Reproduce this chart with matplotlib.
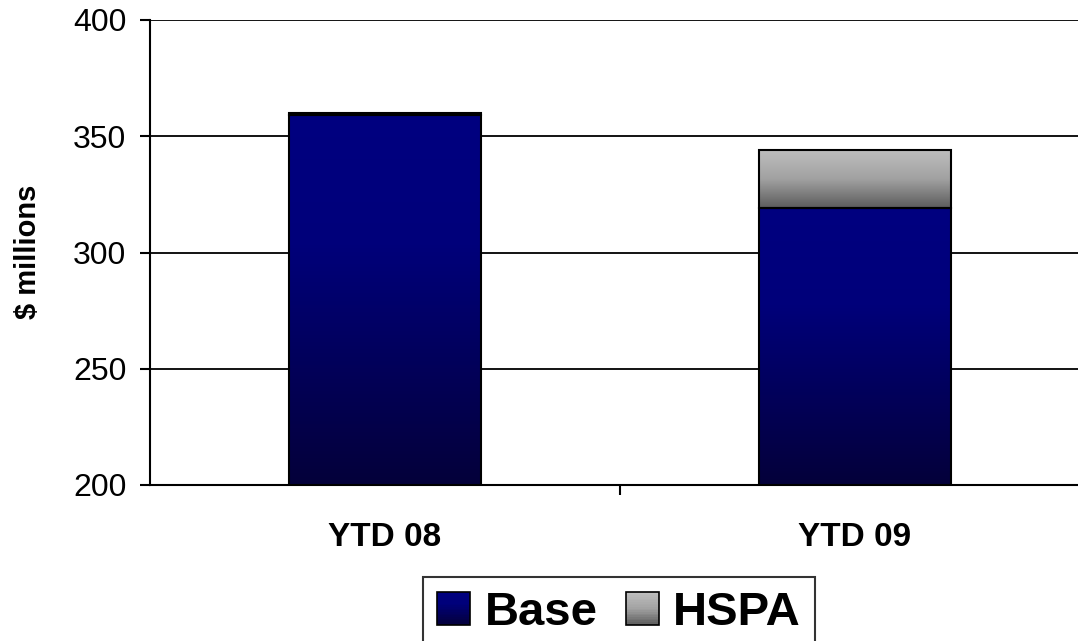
import numpy as np
import matplotlib
matplotlib.use("Agg")
import matplotlib.pyplot as plt
from matplotlib.colors import LinearSegmentedColormap
from matplotlib.patches import Patch, Rectangle
from matplotlib.legend_handler import HandlerBase

plt.rcParams['font.family'] = ['Liberation Sans', 'DejaVu Sans']

categories = ["YTD 08", "YTD 09"]
base = [359, 319]
hspa = [1, 25]
y_min, y_max = 200, 400

# gradient maps: bottom colour -> top colour
base_cmap = LinearSegmentedColormap.from_list(
    "base", [(0.0, "#04003a"), (0.65, "#00007a"), (1.0, "#000080")])
hspa_cmap = LinearSegmentedColormap.from_list(
    "hspa", [(0.0, "#5c5c5c"), (0.5, "#a2a2a2"), (1.0, "#bebebe")])


def gradient_bars(ax, bars, cmap, floor):
    """Fill each bar with a vertical gradient over its visible part"""
    grad = np.linspace(0, 1, 256).reshape(-1, 1)
    for b in bars:
        x, w = b.get_x(), b.get_width()
        y0 = max(b.get_y(), floor)
        y1 = b.get_y() + b.get_height()
        ax.imshow(grad, extent=[x, x + w, y0, y1], aspect='auto',
                  cmap=cmap, origin='lower', zorder=2)
        b.set_facecolor('none')


class GradientHandler(HandlerBase):
    """Legend key drawn as a small square with a vertical gradient"""
    def __init__(self, cmap, steps=20):
        super().__init__()
        self.cmap = cmap
        self.steps = steps

    def create_artists(self, legend, orig_handle, xdescent, ydescent,
                       width, height, fontsize, trans):
        artists = []
        side = min(width, height)
        x0 = -xdescent + (width - side) / 2
        y0 = -ydescent + (height - side) / 2
        dh = side / self.steps
        for i in range(self.steps):
            r = Rectangle((x0, y0 + i * dh), side, dh * 1.05,
                          facecolor=self.cmap(i / (self.steps - 1)),
                          edgecolor='none', transform=trans)
            artists.append(r)
        artists.append(Rectangle((x0, y0), side, side, facecolor='none',
                                 edgecolor='black', linewidth=1.2, transform=trans))
        return artists


fig = plt.figure(figsize=(10.78, 6.41), dpi=100)
ax = fig.add_axes([150 / 1078, 156 / 641, 940 / 1078, 465 / 641])

x = np.arange(len(categories))
width = 0.41
b1 = ax.bar(x, base, width, color='#000080', edgecolor='black', linewidth=1.5, zorder=3)
b2 = ax.bar(x, hspa, width, bottom=base, color='#a0a0a0', edgecolor='black',
            linewidth=1.5, zorder=3)
gradient_bars(ax, b1, base_cmap, y_min)
gradient_bars(ax, b2, hspa_cmap, y_min)

ax.set_xlim(-0.5, 1.5)
ax.set_ylim(y_min, y_max)
ax.set_yticks([200, 250, 300, 350, 400])
ax.yaxis.grid(True, color='black', linewidth=1.3, zorder=0)
ax.set_axisbelow(True)

ax.set_xticks(x)
ax.set_xticklabels(categories, fontsize=24, fontweight='bold')
ax.set_xticks([0.5], minor=True)
ax.tick_params(axis='x', which='major', length=0, pad=27)
ax.tick_params(axis='x', which='minor', length=7, width=1.5)
ax.tick_params(axis='y', labelsize=23, length=7, width=1.5, pad=10)

for s in ['top', 'right']:
    ax.spines[s].set_visible(False)
ax.spines['left'].set_linewidth(1.5)
ax.spines['bottom'].set_linewidth(1.5)

fig.text(28 / 1078, 1 - 252 / 641, "$ millions", rotation=90, ha='center',
         va='center', fontsize=21, fontweight='bold')

h_base = Patch(label='Base')
h_hspa = Patch(label='HSPA')
leg = fig.legend(handles=[h_base, h_hspa], loc='upper center',
                 bbox_to_anchor=(619 / 1078, 1 - 577 / 641),
                 ncol=2, frameon=True, fancybox=False, edgecolor='black',
                 prop={'size': 34, 'weight': 'bold'},
                 handler_map={h_base: GradientHandler(base_cmap),
                              h_hspa: GradientHandler(hspa_cmap)},
                 handlelength=0.7, handleheight=0.7, handletextpad=0.3,
                 columnspacing=0.6, borderpad=0.3, borderaxespad=0)
leg.get_frame().set_linewidth(1.5)

fig.savefig("out.png", dpi=100)
